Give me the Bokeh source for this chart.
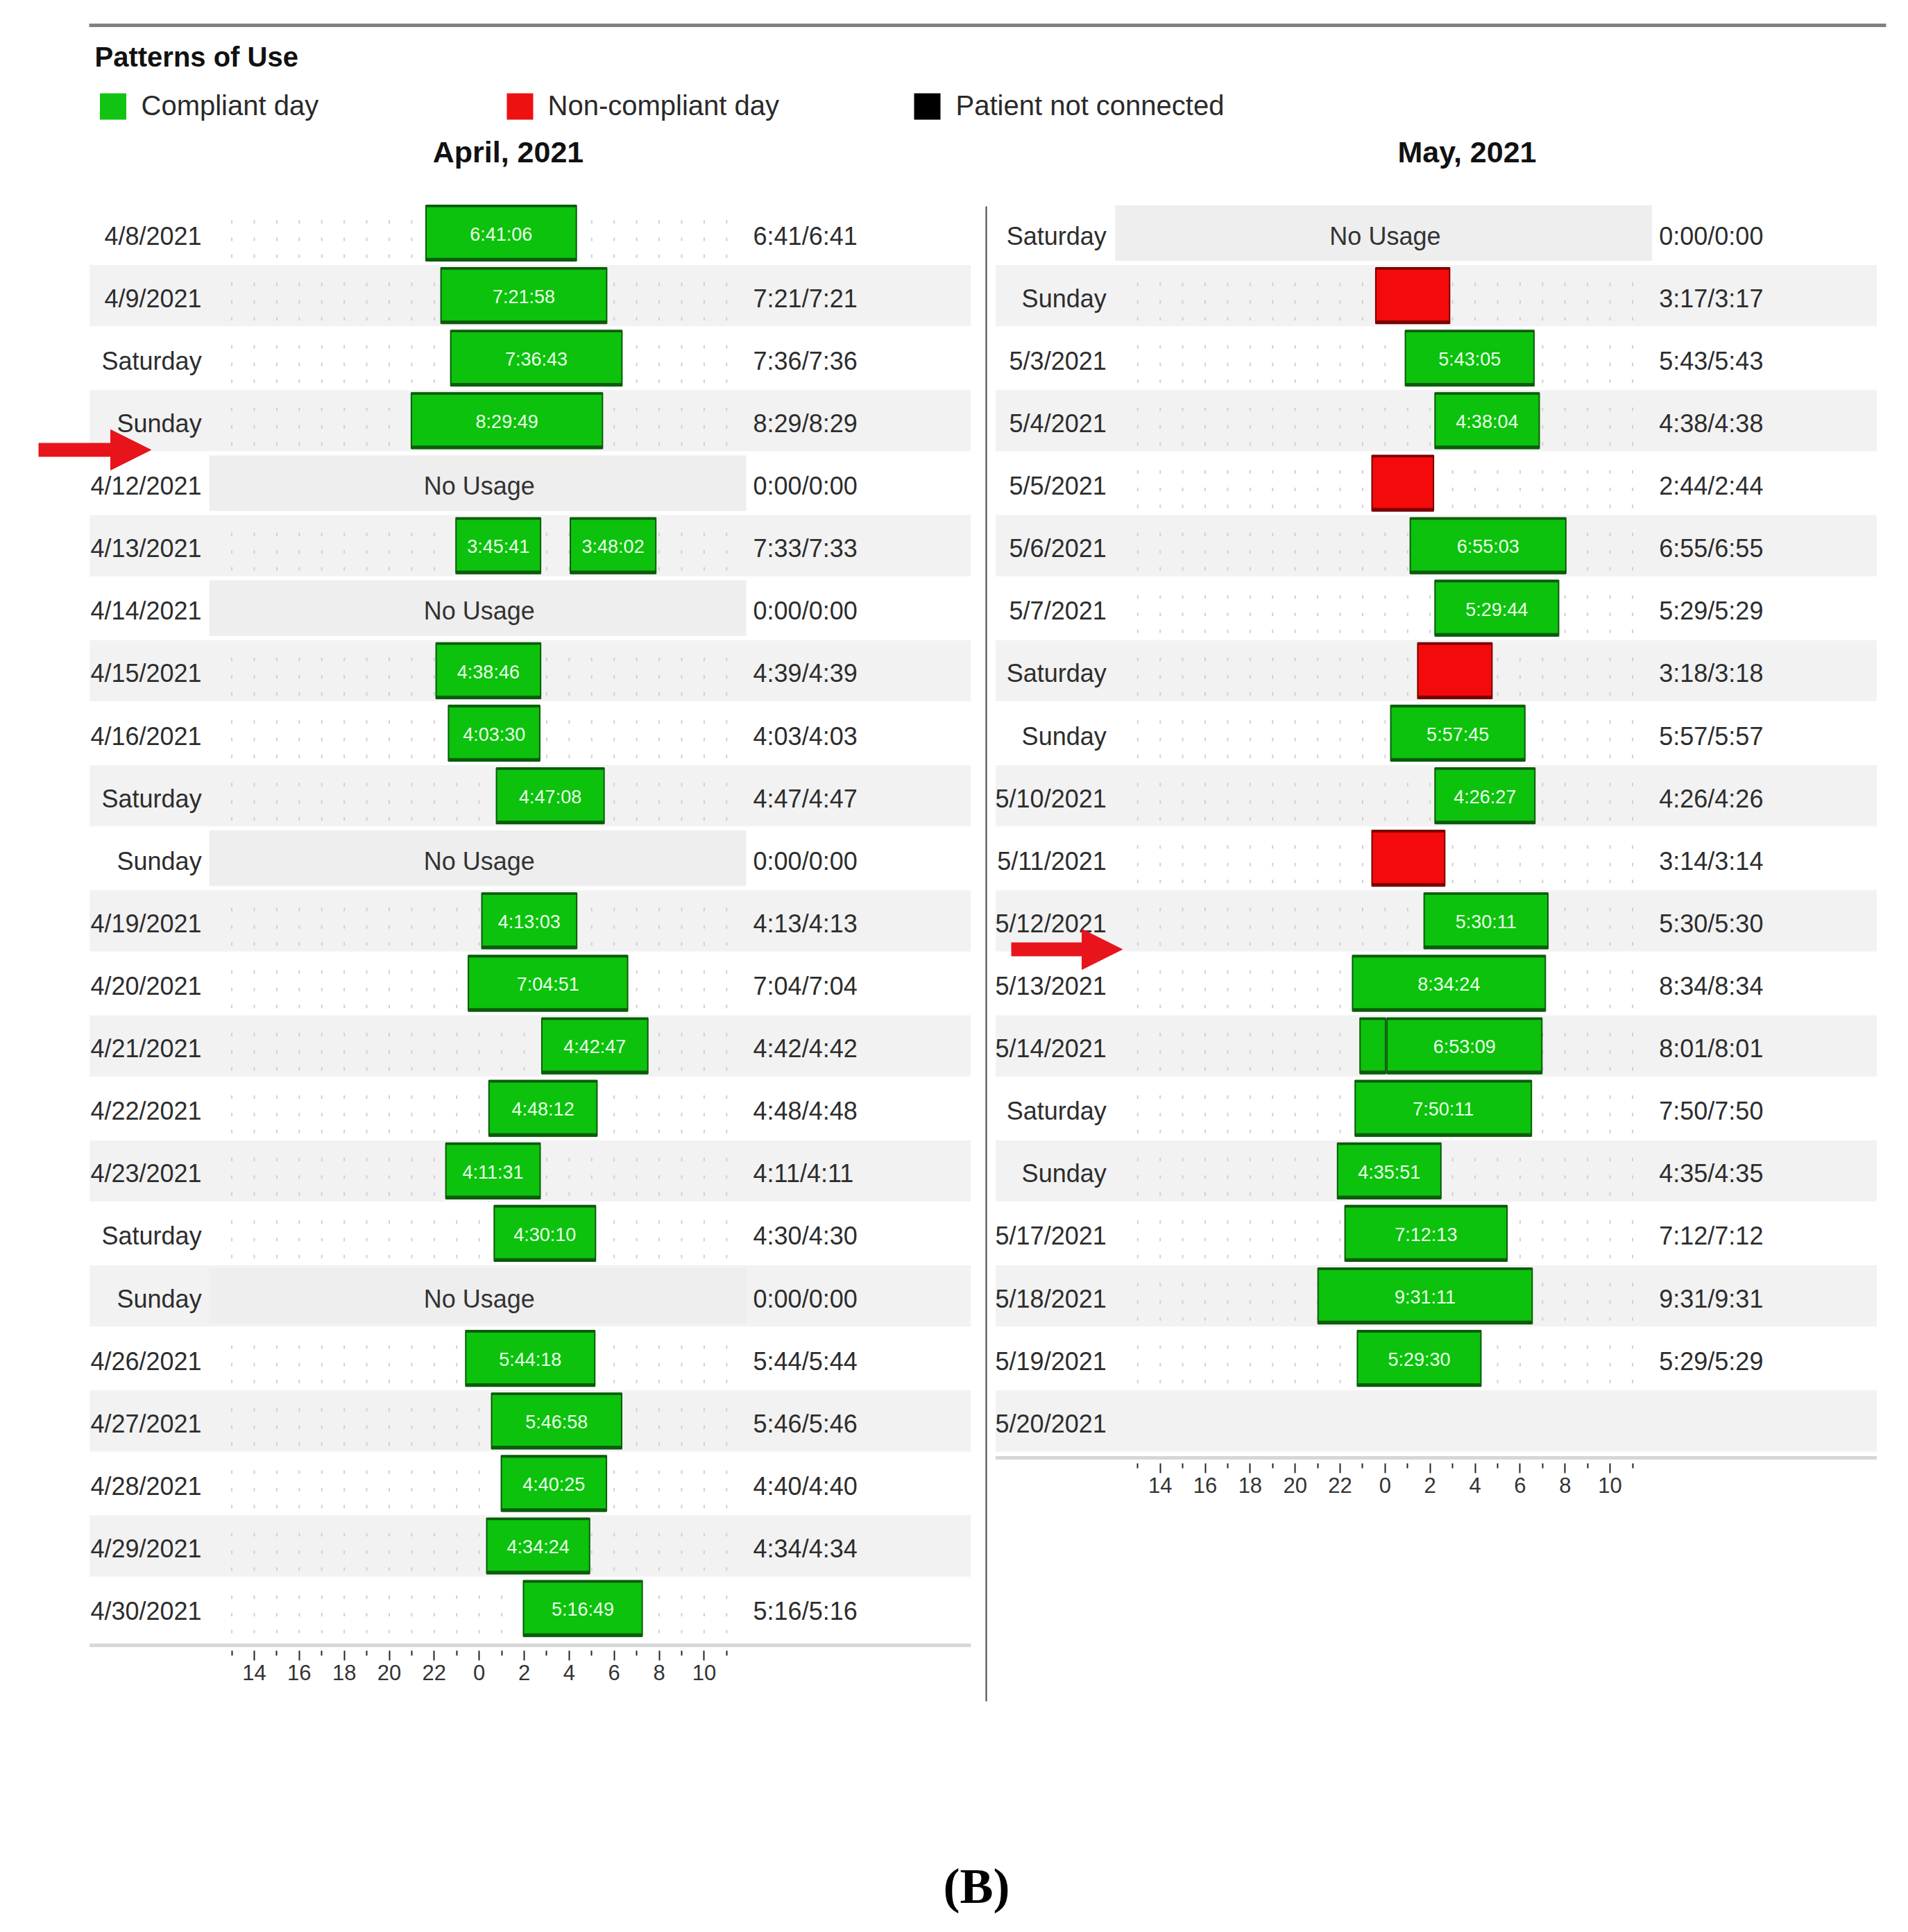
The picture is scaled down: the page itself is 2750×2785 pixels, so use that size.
from bokeh.plotting import figure
from bokeh.models import Range1d, LinearAxis, FixedTicker, Arrow, NormalHead
from bokeh.core.properties import value
from bokeh.embed import file_html
from bokeh.resources import INLINE

# ---------------- data ----------------
apr_days = ["4/8/2021", "4/9/2021", "Saturday", "Sunday", "4/12/2021", "4/13/2021", "4/14/2021",
            "4/15/2021", "4/16/2021", "Saturday", "Sunday", "4/19/2021", "4/20/2021", "4/21/2021",
            "4/22/2021", "4/23/2021", "Saturday", "Sunday", "4/26/2021", "4/27/2021", "4/28/2021",
            "4/29/2021", "4/30/2021"]
apr_totals = ["6:41/6:41", "7:21/7:21", "7:36/7:36", "8:29/8:29", "0:00/0:00", "7:33/7:33", "0:00/0:00",
              "4:39/4:39", "4:03/4:03", "4:47/4:47", "0:00/0:00", "4:13/4:13", "7:04/7:04", "4:42/4:42",
              "4:48/4:48", "4:11/4:11", "4:30/4:30", "0:00/0:00", "5:44/5:44", "5:46/5:46", "4:40/4:40",
              "4:34/4:34", "5:16/5:16"]
apr_no_usage = [4, 6, 10, 17]
apr_sess_row = [0, 1, 2, 3, 5, 5, 7, 8, 9, 11, 12, 13, 14, 15, 16, 18, 19, 20, 21, 22]
apr_sess_start = ["21:38", "22:18", "22:44", "20:59", "22:58", "04:03", "22:05", "22:38", "00:46", "00:07",
                  "23:31", "02:47", "00:26", "22:31", "00:40", "23:24", "00:33", "00:59", "00:20", "01:58"]
apr_sess_dur = ["6:41:06", "7:21:58", "7:36:43", "8:29:49", "3:45:41", "3:48:02", "4:38:46", "4:03:30",
                "4:47:08", "4:13:03", "7:04:51", "4:42:47", "4:48:12", "4:11:31", "4:30:10", "5:44:18",
                "5:46:58", "4:40:25", "4:34:24", "5:16:49"]
apr_sess_status = ["c"] * 20
apr_sess_label = list(apr_sess_dur)

may_days = ["Saturday", "Sunday", "5/3/2021", "5/4/2021", "5/5/2021", "5/6/2021", "5/7/2021", "Saturday",
            "Sunday", "5/10/2021", "5/11/2021", "5/12/2021", "5/13/2021", "5/14/2021", "Saturday", "Sunday",
            "5/17/2021", "5/18/2021", "5/19/2021", "5/20/2021"]
may_totals = ["0:00/0:00", "3:17/3:17", "5:43/5:43", "4:38/4:38", "2:44/2:44", "6:55/6:55", "5:29/5:29",
              "3:18/3:18", "5:57/5:57", "4:26/4:26", "3:14/3:14", "5:30/5:30", "8:34/8:34", "8:01/8:01",
              "7:50/7:50", "4:35/4:35", "7:12/7:12", "9:31/9:31", "5:29/5:29", ""]
may_no_usage = [0]
may_sess_row = [1, 2, 3, 4, 5, 6, 7, 8, 9, 10, 11, 12, 13, 13, 14, 15, 16, 17, 18]
may_sess_start = ["23:35", "00:54", "02:13", "23:25", "01:07", "02:13", "01:27", "00:15", "02:13", "23:25",
                  "01:44", "22:33", "22:53", "00:05", "22:40", "21:53", "22:13", "21:01", "22:46"]
may_sess_dur = ["3:17:00", "5:43:05", "4:38:04", "2:44:00", "6:55:03", "5:29:44", "3:18:00", "5:57:45",
                "4:26:27", "3:14:00", "5:30:11", "8:34:24", "1:08:00", "6:53:09", "7:50:11", "4:35:51",
                "7:12:13", "9:31:11", "5:29:30"]
may_sess_status = ["n", "c", "c", "n", "c", "c", "n", "c", "c", "n", "c", "c", "c", "c", "c", "c", "c", "c", "c"]
may_sess_label = ["", "5:43:05", "4:38:04", "", "6:55:03", "5:29:44", "", "5:57:45", "4:26:27", "",
                  "5:30:11", "8:34:24", "", "6:53:09", "7:50:11", "4:35:51", "7:12:13", "9:31:11", "5:29:30"]

tick_hours = [2, 4, 6, 8, 10, 12, 14, 16, 18, 20, 22]          # hours since noon
tick_labels = ["14", "16", "18", "20", "22", "0", "2", "4", "6", "8", "10"]
minor_hours = [1, 3, 5, 7, 9, 11, 13, 15, 17, 19, 21, 23]
grid_hours = list(range(1, 24))

legend_labels = ["Compliant day", "Non-compliant day", "Patient not connected"]
legend_colors = ["#12c412", "#ee1111", "#000000"]

# ---------------- styles / layout ----------------
FONT = "Liberation Sans"
GREEN, GREEN_EDGE = "#0cc20c", "#0b5c0b"
RED, RED_EDGE = "#f40a0a", "#7a0000"
ARROW_RED = "#e8141c"
BAND = "#f2f2f2"

W, H, M = 2734, 2769, 0
PX_H = 32.42          # px per hour
ROW_PX = 90.12        # px per row
ROW0 = 335.5          # centre of row 0 (page px)
APR_MID = 690.2       # page x of midnight, April panel
MAY_MID = 1995.9      # page x of midnight, May panel


def ry(px):
    return (px - ROW0) / ROW_PX


def rxa(px):
    return 12 + (px - APR_MID) / PX_H


def rxm(px):
    return 12 + (px - MAY_MID) / PX_H


def hms(s):
    parts = [int(v) for v in s.split(":")]
    while len(parts) < 3:
        parts.append(0)
    return parts[0] + parts[1] / 60 + parts[2] / 3600


def since_noon(clock):
    h, m = [int(v) for v in clock.split(":")]
    return (h + m / 60 - 12) % 24


p = figure(width=W, height=H, x_range=Range1d(rxa(M), rxa(M + W)), y_range=Range1d(ry(M + H), ry(M)),
           x_axis_type=None, y_axis_type=None, toolbar_location=None, output_backend="svg",
           min_border=0, outline_line_color=None, background_fill_color="white", border_fill_color="white")
p.extra_x_ranges = {"may": Range1d(rxm(M), rxm(M + W))}

BAND_L, BAND_R = -5.32, 33.86
HALF_BAR = 0.445


def panel(rn, days, totals, no_usage, s_row, s_start, s_dur, s_status, s_label, label_x):
    n = len(days)
    # alternating row bands
    odd = [r for r in range(n) if r % 2 == 1]
    p.quad(left=BAND_L, right=BAND_R, top=[r - 0.49 for r in odd], bottom=[r + 0.49 for r in odd],
           fill_color=BAND, line_color=None, x_range_name=rn)
    # dotted hour grid for rows with usage
    used = sorted(set(s_row))
    dx, dy = [], []
    for r in used:
        for hh in grid_hours:
            for off in (-0.18, 0.10, 0.37):
                dx.append(hh)
                dy.append(r + off)
    p.rect(x=dx, y=dy, width=2, height=5, width_units="screen", height_units="screen",
           fill_color="#d0d0d0", line_color=None, x_range_name=rn)
    # no usage boxes
    p.quad(left=0, right=23.87, top=[r - HALF_BAR for r in no_usage], bottom=[r + HALF_BAR for r in no_usage],
           fill_color="#eeeeee", line_color=None, x_range_name=rn)
    p.text(x=[12] * len(no_usage), y=[r + 0.045 for r in no_usage], text=["No Usage"] * len(no_usage),
           text_font=value(FONT), text_font_size=value("36px"), text_color="#333333",
           text_align="center", text_baseline="middle", x_range_name=rn)
    # bars
    left = [since_noon(s) for s in s_start]
    right = [l + hms(d) for l, d in zip(left, s_dur)]
    fills = [GREEN if s == "c" else RED for s in s_status]
    edges = [GREEN_EDGE if s == "c" else RED_EDGE for s in s_status]
    p.quad(left=left, right=right, top=[r - HALF_BAR for r in s_row], bottom=[r + HALF_BAR for r in s_row],
           fill_color=fills, line_color=edges, line_width=2, x_range_name=rn)
    p.segment(x0=left, x1=right, y0=[r + 0.425 for r in s_row], y1=[r + 0.425 for r in s_row],
              line_color=edges, line_width=5, x_range_name=rn)
    p.segment(x0=left, x1=right, y0=[r - 0.43 for r in s_row], y1=[r - 0.43 for r in s_row],
              line_color=edges, line_width=3, x_range_name=rn)
    lx = [(l + rr) / 2 for l, rr, t in zip(left, right, s_label) if t]
    ly = [r + 0.02 for r, t in zip(s_row, s_label) if t]
    lt = [t for t in s_label if t]
    p.text(x=lx, y=ly, text=lt, text_font=value(FONT), text_font_size=value("27px"), text_color="#eaffea",
           text_align="center", text_baseline="middle", x_range_name=rn)
    # row labels and totals
    rows = list(range(n))
    p.text(x=[label_x] * n, y=[r + 0.045 for r in rows], text=days, text_font=value(FONT),
           text_font_size=value("36px"), text_color="#2d2d2d", text_align="right", text_baseline="middle",
           x_range_name=rn)
    p.text(x=[24.18] * n, y=[r + 0.045 for r in rows], text=totals, text_font=value(FONT),
           text_font_size=value("36px"), text_color="#2d2d2d", text_align="left", text_baseline="middle",
           x_range_name=rn)
    # bottom rule
    yb = n - 1 + 0.59
    p.segment(x0=[BAND_L], x1=[BAND_R], y0=[yb], y1=[yb], line_color="#d6d6d6", line_width=5, x_range_name=rn)
    # time axis
    ax = LinearAxis(x_range_name=rn, fixed_location=yb + 0.085,
                    ticker=FixedTicker(ticks=tick_hours, minor_ticks=minor_hours),
                    major_label_overrides=dict(zip(tick_hours, tick_labels)),
                    axis_line_color=None, major_tick_in=0, major_tick_out=14, minor_tick_in=0, minor_tick_out=7,
                    major_tick_line_color="#222222", minor_tick_line_color="#222222",
                    major_tick_line_width=2, minor_tick_line_width=2,
                    major_label_text_font=FONT, major_label_text_font_size="31px",
                    major_label_text_color="#333333", major_label_standoff=7)
    p.add_layout(ax, "below")


panel("default", apr_days, apr_totals, apr_no_usage, apr_sess_row, apr_sess_start, apr_sess_dur,
      apr_sess_status, apr_sess_label, -0.34)
panel("may", may_days, may_totals, may_no_usage, may_sess_row, may_sess_start, may_sess_dur,
      may_sess_status, may_sess_label, -0.39)

# separator between months
p.segment(x0=[rxa(1421)], x1=[rxa(1421)], y0=[ry(297)], y1=[ry(2452)], line_color="#444444", line_width=2)

# header
p.segment(x0=[rxa(128)], x1=[rxa(2718)], y0=[ry(36)], y1=[ry(36)], line_color="#808080", line_width=5)
p.text(x=[rxa(136)], y=[ry(81)], text=["Patterns of Use"], text_font=value(FONT), text_font_style="bold",
       text_font_size=value("40px"), text_color="#111111", text_align="left", text_baseline="middle")
leg_sq_x = [rxa(162.5), rxa(749), rxa(1336)]
leg_tx_x = [rxa(203), rxa(789), rxa(1377)]
p.rect(x=leg_sq_x, y=[ry(153)] * 3, width=38, height=38, width_units="screen", height_units="screen",
       fill_color=legend_colors, line_color=None)
p.text(x=leg_tx_x, y=[ry(151)] * 3, text=legend_labels, text_font=value(FONT), text_font_size=value("40px"),
       text_color="#2a2a2a", text_align="left", text_baseline="middle")
p.text(x=[rxa(732), rxa(2114)], y=[ry(218)] * 2, text=["April, 2021", "May, 2021"], text_font=value(FONT),
       text_font_style="bold", text_font_size=value("43px"), text_color="#111111", text_align="center",
       text_baseline="middle")

# red arrows
p.add_layout(Arrow(x_start=rxa(55), y_start=ry(648), x_end=rxa(217), y_end=ry(648), line_color=ARROW_RED,
                   line_width=20, end=NormalHead(size=58, fill_color=ARROW_RED, line_color=ARROW_RED)))
p.add_layout(Arrow(x_start=rxm(1457), y_start=ry(1368), x_end=rxm(1617), y_end=ry(1368), line_color=ARROW_RED,
                   line_width=20, end=NormalHead(size=58, fill_color=ARROW_RED, line_color=ARROW_RED),
                   x_range_name="may"))

# panel caption
p.text(x=[rxa(1407)], y=[ry(2718)], text=["(B)"], text_font=value("Liberation Serif"), text_font_style="bold",
       text_font_size=value("72px"), text_color="#000000", text_align="center", text_baseline="middle")

open("out.html", "w").write(file_html(p, INLINE))
